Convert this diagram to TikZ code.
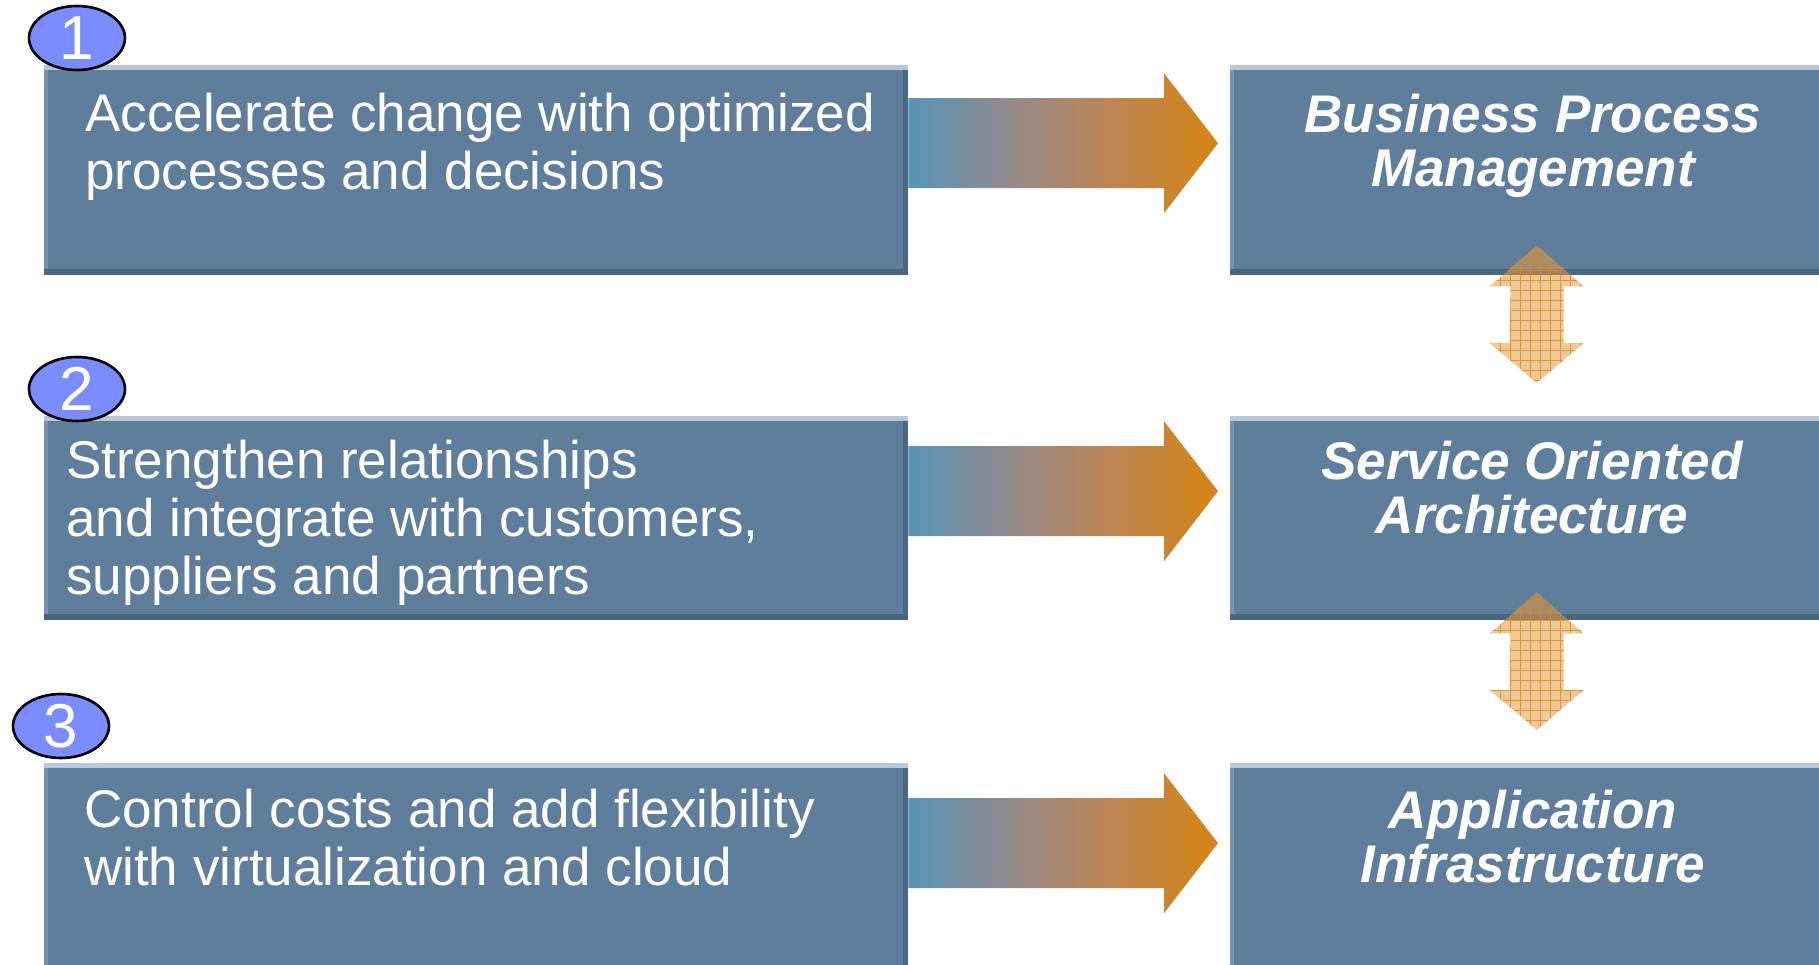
\documentclass[tikz,border=0pt]{standalone}
\usepackage{fontspec}
\setmainfont{Liberation Sans}
\usetikzlibrary{shapes.geometric,calc}

\definecolor{panel}{HTML}{5E7E9C}
\definecolor{paneltop}{HTML}{B8C7D5}
\definecolor{panelbot}{HTML}{4A6580}
\definecolor{panelleft}{HTML}{7A92AC}
\definecolor{panelright}{HTML}{4C6784}
\definecolor{numfill}{HTML}{7B8CFF}
\definecolor{flowblue}{HTML}{5A94B4}
\definecolor{flowgrey}{HTML}{8F8A91}
\definecolor{flowtan}{HTML}{BD8656}
\definecolor{flowor}{HTML}{D3841A}
\definecolor{linkfill}{HTML}{E59A3A}
\definecolor{linkgrid}{HTML}{D6892A}

\pgfdeclarehorizontalshading{flow}{100bp}{color(0bp)=(flowblue); color(26bp)=(flowblue); color(40bp)=(flowgrey); color(57bp)=(flowtan); color(73bp)=(flowor); color(100bp)=(flowor)}

\tikzset{x=1pt, y=-1pt,
  panel/.style={anchor=north west, fill=panel, inner sep=0pt,
    path picture={
      \fill[paneltop] (path picture bounding box.north west) rectangle ([yshift=-5pt]path picture bounding box.north east);
      \fill[panelbot] ([yshift=6pt]path picture bounding box.south west) rectangle (path picture bounding box.south east);
      \fill[panelleft] ([yshift=-5pt]path picture bounding box.north west) rectangle ([xshift=4pt,yshift=6pt]path picture bounding box.south west);
      \fill[panelright] ([xshift=-5pt,yshift=-5pt]path picture bounding box.north east) rectangle ([yshift=6pt]path picture bounding box.south east);
    }},
  lefttext/.style={text=white, anchor=base west, align=left, inner sep=0pt, font=\fontsize{53}{58}\selectfont},
  righttext/.style={text=white, anchor=base, align=center, inner sep=0pt, font=\fontsize{53}{54}\selectfont\bfseries\itshape},
  number/.style={ellipse, draw=black, line width=2.6pt, fill=numfill, text=white, inner sep=0pt,
    minimum width=96pt, minimum height=64pt, font=\fontsize{62}{62}\selectfont},
  fat arrow/.style={to path={(\tikztostart) ++(0,-45) -- ($(\tikztotarget)+(-54,-45)$) -- ++(0,-25) -- (\tikztotarget)
    -- ($(\tikztotarget)+(-54,70)$) -- ++(0,-25) -- ($(\tikztostart)+(0,45)$) -- cycle}},
  twin arrow/.style={to path={(\tikztostart) -- ++(47,41) -- ++(-20,0) -- ($(\tikztotarget)+(27,-40)$) -- ++(20,0)
    -- (\tikztotarget) -- ++(-47,-40) -- ++(20,0) -- ($(\tikztostart)+(-26,41)$) -- ++(-21,0) -- cycle}},
  link/.style={fill=linkfill, fill opacity=.55,
    path picture={\draw[linkgrid, draw opacity=.8, line width=.9pt, step=10pt]
      (path picture bounding box.south west) grid (path picture bounding box.north east);}}
}

\begin{document}
\begin{tikzpicture}
\path[use as bounding box, clip] (0,0) rectangle (1819,965);

% goals on the left
\node[panel, minimum width=864pt, minimum height=210pt] (lbox1) at (44,65) {};
\node[panel, minimum width=864pt, minimum height=204pt] (lbox2) at (44,416) {};
\node[panel, minimum width=864pt, minimum height=208pt] (lbox3) at (44,763) {};

% building blocks on the right
\node[panel, minimum width=595pt, minimum height=210pt] (rbox1) at (1230,65) {};
\node[panel, minimum width=595pt, minimum height=204pt] (rbox2) at (1230,416) {};
\node[panel, minimum width=595pt, minimum height=208pt] (rbox3) at (1230,763) {};

% base = last line
\node[lefttext] (goal1) at (85,190) {Accelerate change with optimized\\processes and decisions};
\node[lefttext] (goal2) at (66,594) {Strengthen relationships\\and integrate with customers,\\suppliers and partners};
\node[lefttext] (goal3) at (84,885) {Control costs and add flexibility\\with virtualization and cloud};

\node[righttext] (bpm) at (1533,187) {Business Process\\Management};
\node[righttext] (soa) at (1532,533) {Service Oriented\\Architecture};
\node[righttext] (infra) at (1533,882) {Application\\Infrastructure};

\node[number] (n1) at (77,38) {1};
\node[number] (n2) at (77,389) {2};
\node[number] (n3) at (61,726) {3};

% arrows
\shade[shading=flow] ([yshift=27pt]lbox1.east) to[fat arrow] ([xshift=-12pt,yshift=27pt]rbox1.west);
\shade[shading=flow] ([yshift=27pt]lbox2.east) to[fat arrow] ([xshift=-12pt,yshift=27pt]rbox2.west);
\shade[shading=flow] ([yshift=24pt]lbox3.east) to[fat arrow] ([xshift=-12pt,yshift=24pt]rbox3.west);

\path[link] ([xshift=9pt,yshift=30pt]rbox1.south) to[twin arrow] ([xshift=9pt,yshift=33pt]rbox2.north);
\path[link] ([xshift=9pt,yshift=28pt]rbox2.south) to[twin arrow] ([xshift=9pt,yshift=33pt]rbox3.north);
\end{tikzpicture}
\end{document}
